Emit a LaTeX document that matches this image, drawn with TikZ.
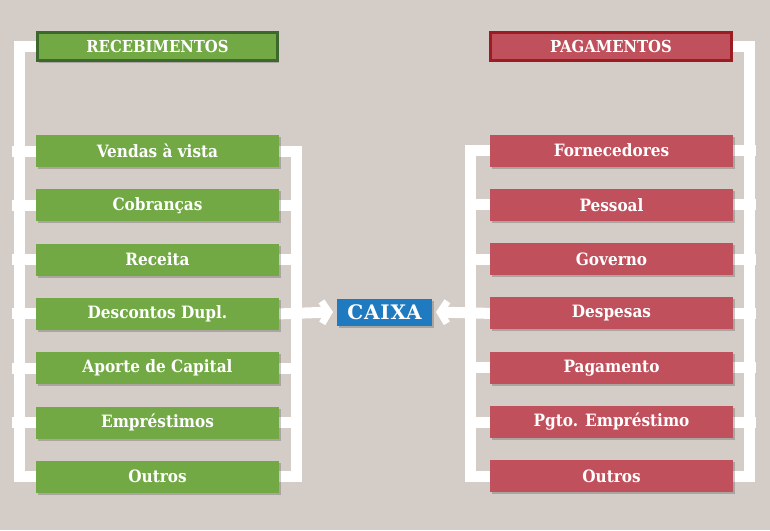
\documentclass[tikz,border=0pt]{standalone}
\usepackage{fontspec}
\setmainfont{DejaVu Serif Condensed}
\newfontfamily\caixafont[LetterSpace=4]{DejaVu Serif}
\usetikzlibrary{arrows.meta,shadows,backgrounds}
\definecolor{bgc}{RGB}{211,204,199}
\definecolor{gfill}{RGB}{114,169,69}
\definecolor{gdark}{RGB}{60,104,45}
\definecolor{rfill}{RGB}{192,80,91}
\definecolor{rdark}{RGB}{155,28,34}
\definecolor{bfill}{RGB}{31,122,192}
\tikzset{
  box/.style={rectangle, minimum width=243pt, minimum height=32pt, inner sep=0pt, outer sep=0pt,
    text=white, font=\bfseries\fontsize{17}{17}\selectfont,
    drop shadow={shadow xshift=1.5pt, shadow yshift=-2pt, opacity=0.3, fill=black!70}},
  gbox/.style={box, fill=gfill},
  rbox/.style={box, fill=rfill},
  ghead/.style={box, fill=gfill, draw=gdark, line width=3pt, minimum width=240pt, minimum height=28pt, font=\bfseries\fontsize{16.5}{16.5}\selectfont},
  rhead/.style={box, fill=rfill, draw=rdark, line width=3pt, minimum width=241pt, minimum height=28pt, font=\bfseries\fontsize{16.5}{16.5}\selectfont},
  cbox/.style={box, fill=bfill, minimum width=95pt, minimum height=27pt, font=\caixafont\bfseries\fontsize{20}{20}\selectfont},
  wl/.style={draw=white, line width=11pt, line join=miter, line cap=butt},
  warr/.style={wl, -{Straight Barb[length=7pt, width=22pt, line width=7pt, sharp]}}
}
\begin{document}
\begin{tikzpicture}[x=1pt, y=-1pt]
\useasboundingbox (0,0) rectangle (770,530);
% headers
\node[ghead] (hL) at (157.5,46.5) {RECEBIMENTOS};
\node[rhead] (hR) at (611,46) {PAGAMENTOS};
% left items
\node[gbox] (l1) at (157.5,151) {Vendas à vista};
\node[gbox] (l2) at (157.5,205.3) {Cobranças};
\node[gbox] (l3) at (157.5,259.6) {Receita};
\node[gbox] (l4) at (157.5,313.9) {Descontos Dupl.};
\node[gbox] (l5) at (157.5,368.2) {Aporte de Capital};
\node[gbox] (l6) at (157.5,422.5) {Empréstimos};
\node[gbox] (l7) at (157.5,476.5) {Outros};
% right items
\node[rbox] (r1) at (611.5,150.5) {Fornecedores};
\node[rbox] (r2) at (611.5,204.8) {Pessoal};
\node[rbox] (r3) at (611.5,259.1) {Governo};
\node[rbox] (r4) at (611.5,313.4) {Despesas};
\node[rbox] (r5) at (611.5,367.7) {Pagamento};
\node[rbox] (r6) at (611.5,422) {Pgto. Empréstimo};
\node[rbox] (r7) at (611.5,476) {Outros};
% center
\node[cbox] (cx) at (384.5,312) {CAIXA};
\begin{scope}[on background layer]
\fill[bgc] (0,0) rectangle (770,530);
% left outer bracket
\draw[wl] (hL.west) -- ++(-18.5,0) |- (l7.west);
\foreach \i in {1,...,6} \draw[wl] (l\i.west) -- ++(-24,0);
% left inner bracket
\draw[wl] (l1.east) -- ++(17.5,0) |- (l7.east);
\foreach \i in {2,3,5,6} \draw[wl] (l\i.east) -- ++(23,0);
\draw[warr] (l4.east) -- ([xshift=-4pt]cx.west);
% right inner bracket
\draw[wl] (r1.west) -- ++(-20,0) |- (r7.west);
\foreach \i in {2,3,5,6} \draw[wl] (r\i.west) -- ++(-25,0);
\draw[warr] (r4.west) -- ([xshift=4pt]cx.east);
% right outer bracket
\draw[wl] (hR.east) -- ++(17.5,0) |- (r7.east);
\foreach \i in {1,...,6} \draw[wl] (r\i.east) -- ++(23,0);
\end{scope}
\end{tikzpicture}
\end{document}
